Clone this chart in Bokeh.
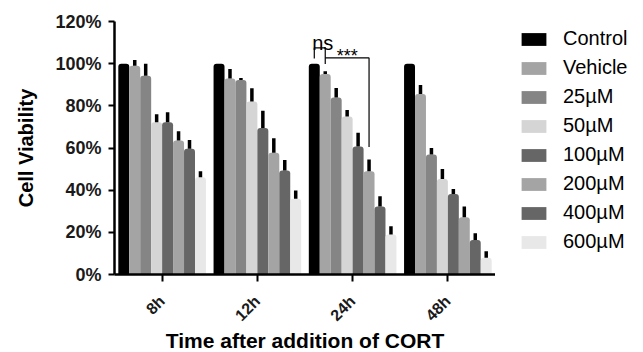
import math
from bokeh.plotting import figure
from bokeh.layouts import row
from bokeh.models import (FactorRange, ColumnDataSource, Legend, LegendItem,
                          PrintfTickFormatter, FixedTicker, Range1d)
from bokeh.transform import dodge
from bokeh.core.properties import value
from bokeh.embed import file_html
from bokeh.resources import INLINE

groups = ["8h", "12h", "24h", "48h"]
series = ["Control", "Vehicle", "25µM", "50µM", "100µM", "200µM", "400µM", "600µM"]

control = [100.0, 100.0, 100.0, 100.0]
vehicle = [99.0, 93.0, 95.1, 85.6]
c25 = [94.3, 92.3, 84.0, 56.9]
c50 = [72.2, 82.0, 74.9, 45.3]
c100 = [72.2, 69.5, 60.7, 38.2]
c200 = [63.5, 57.7, 49.0, 27.2]
c400 = [59.6, 49.3, 32.2, 16.4]
c600 = [46.1, 35.9, 19.0, 7.9]

control_sd = [0.0, 0.0, 0.0, 0.0]
vehicle_sd = [2.7, 4.5, 1.3, 4.3]
c25_sd = [5.7, 0.9, 4.5, 3.1]
c50_sd = [3.8, 6.3, 3.1, 4.7]
c100_sd = [4.8, 8.2, 6.5, 2.4]
c200_sd = [4.5, 6.9, 5.5, 5.0]
c400_sd = [4.2, 5.0, 4.9, 3.2]
c600_sd = [2.9, 3.9, 3.9, 3.1]

y_ticks = [0, 20, 40, 60, 80, 100, 120]

# significance annotations at 24h: (left series, right series, label)
sig_group = "24h"
ns_pair = ("Control", "Vehicle", "ns")
star_pair = ("Vehicle", "200µM", "***")

means = [control, vehicle, c25, c50, c100, c200, c400, c600]
sds = [control_sd, vehicle_sd, c25_sd, c50_sd, c100_sd, c200_sd, c400_sd, c600_sd]
colors = ["#000000", "#a4a4a4", "#858585", "#d5d5d5", "#666666", "#a4a4a4", "#666666", "#e8e8e8"]

FONT = "Liberation Sans"
bar_w = 0.115

p = figure(frame_width=381, frame_height=253, x_range=FactorRange(*groups),
           y_range=Range1d(0, 120),
           output_backend="svg", toolbar_location=None,
           min_border_left=114, min_border_right=0, min_border_top=21, min_border_bottom=77)
p.outline_line_color = None
p.xgrid.grid_line_color = None
p.ygrid.grid_line_color = None
p.background_fill_color = None
p.border_fill_color = None

items = []
for i, (name, m, s, c) in enumerate(zip(series, means, sds, colors)):
    off = (i - 3.5) * bar_w
    src = ColumnDataSource(dict(g=groups, top=m, up=[a + b for a, b in zip(m, s)]))
    p.vbar(x=dodge("g", off, range=p.x_range), top="top", width=bar_w, source=src,
           fill_color=c, line_color=None, border_radius=(3, 3, 0, 0))
    if i > 0:
        p.segment(x0=dodge("g", off, range=p.x_range), x1=dodge("g", off, range=p.x_range),
                  y0="top", y1="up", source=src, line_color="black", line_width=3.5)
    items.append((name, c))

# significance brackets
gi = groups.index(sig_group)
def xpos(sname):
    return gi + 0.5 + (series.index(sname) - 3.5) * bar_w

xa, xb = xpos(ns_pair[0]), xpos(ns_pair[1])
ya = means[series.index(ns_pair[0])][gi]
yb = means[series.index(ns_pair[1])][gi]
p.line(x=[xa, xa, xb, xb], y=[ya + 2.4, 107.5, 107.5, yb + sds[series.index(ns_pair[1])][gi] + 3.5],
       line_color="black", line_width=1.2)
p.text(x=[(xa + xb) / 2], y=[110.0], text=[ns_pair[2]], text_align="center",
       text_baseline="alphabetic", text_font=value(FONT), text_font_size="20px",
       x_offset=3)

xs, xe = xpos(star_pair[0]), xpos(star_pair[1])
ye = means[series.index(star_pair[1])][gi] + sds[series.index(star_pair[1])][gi]
p.line(x=[xs, xe, xe], y=[102.7, 102.7, ye + 6], line_color="black", line_width=1.2)
p.text(x=[(xs + xe) / 2], y=[103.6], text=[star_pair[2]], text_align="center",
       text_baseline="alphabetic", text_font=value(FONT), text_font_size="18px")

# axes
for ax in (p.xaxis[0], p.yaxis[0]):
    ax.axis_line_width = 2.5
    ax.axis_line_color = "black"
    ax.major_tick_line_width = 2
    ax.major_tick_line_color = "black"
    ax.major_tick_in = 0
    ax.minor_tick_line_color = None
    ax.major_label_text_font = FONT
    ax.major_label_text_font_style = "bold"
    ax.major_label_text_color = "#1a1a1a"
    ax.axis_label_text_font = FONT
    ax.axis_label_text_font_style = "bold"
    ax.axis_label_text_color = "black"

p.yaxis.ticker = FixedTicker(ticks=y_ticks)
p.yaxis.formatter = PrintfTickFormatter(format="%d%%")
p.yaxis.major_tick_out = 6
p.yaxis.major_label_standoff = 7
p.yaxis.major_label_text_font_size = "18px"
p.yaxis.axis_label = "Cell Viability"
p.yaxis.axis_label_text_font_size = "20px"
p.yaxis.axis_label_standoff = 15

p.xaxis.major_tick_out = 7
p.xaxis.major_label_orientation = math.pi / 4
p.xaxis.major_label_text_font_size = "16px"
p.xaxis.major_label_standoff = 17
p.xaxis.axis_label = "Time after addition of CORT"
p.xaxis.axis_label_text_font_size = "21px"
p.xaxis.axis_label_standoff = -4

# legend panel as its own small figure (frames aligned with the main plot)
leg = figure(frame_width=125, frame_height=253, x_range=Range1d(0, 1), y_range=Range1d(0, 1),
             output_backend="svg", toolbar_location=None,
             min_border_left=17, min_border_right=0, min_border_top=21, min_border_bottom=77)
leg.axis.visible = False
leg.grid.visible = False
leg.outline_line_color = None
leg.background_fill_color = None
leg.border_fill_color = None
leg_items = []
for name, c in items:
    r = leg.rect(x=[-5], y=[-5], width=0.1, height=0.1, fill_color=c, line_color=None)
    leg_items.append(LegendItem(label=name, renderers=[r]))
legend = Legend(items=leg_items, location="top_left", orientation="vertical")
legend.border_line_color = None
legend.background_fill_color = None
legend.margin = 6
legend.padding = 0
legend.label_text_font = FONT
legend.label_text_font_size = "20px"
legend.label_text_color = "black"
legend.glyph_width = 31
legend.glyph_height = 16
legend.label_height = 16
legend.spacing = 6
legend.label_standoff = 14
legend.label_text_baseline = "middle"
leg.add_layout(legend)

layout = row(p, leg)
open("out.html", "w").write(file_html(layout, INLINE))
